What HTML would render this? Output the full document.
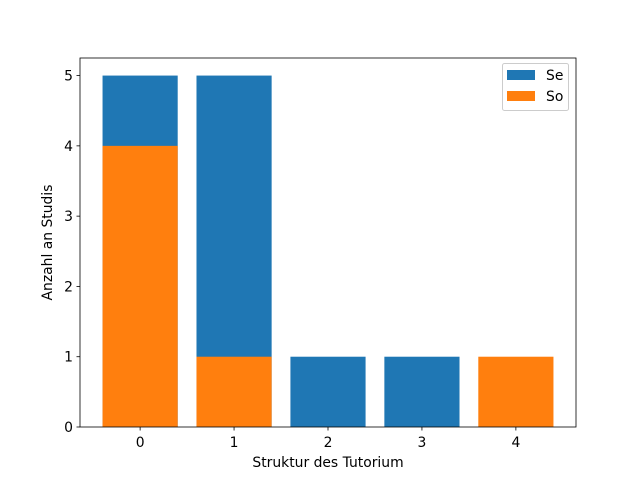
<!DOCTYPE html>
<html><head><meta charset="utf-8"><style>
body{margin:0;background:#fff}
svg text{font-family:"DejaVu Sans","Liberation Sans",sans-serif;font-size:13.9px;fill:#000}
</style></head><body>
<svg id="chart" width="640" height="480">
<rect width="640" height="480" fill="#fff"/>
<g id="bars"></g>
<g id="axes"></g>
</svg>
<script>
const categories=[0,1,2,3,4];
const seValues=[5,5,1,1,0];
const soValues=[4,1,0,0,1];
const yTicks=[0,1,2,3,4,5];
const ns='http://www.w3.org/2000/svg';
const L=80,R=576,T=58,B=427;
const xmin=-0.64,xmax=4.64,ymax=5.25;
const xs=v=>L+(v-xmin)/(xmax-xmin)*(R-L);
const ys=v=>B-v/ymax*(B-T);
const svg=document.getElementById('chart');
const bars=document.getElementById('bars');
const axes=document.getElementById('axes');
function mk(tag,a,p){const e=document.createElementNS(ns,tag);for(const k in a)e.setAttribute(k,a[k]);p.appendChild(e);return e;}
function drawSeries(vals,color,name){
vals.forEach((v,i)=>{if(v<=0)return;
const r=mk('rect',{x:xs(categories[i]-0.4),y:ys(v),width:xs(categories[i]+0.4)-xs(categories[i]-0.4),height:ys(0)-ys(v),fill:color},bars);

});
}
drawSeries(seValues,'#1f77b4','se');
drawSeries(soValues,'#ff7f0e','so');
const frame=mk('rect',{x:L,y:T,width:R-L,height:B-T,fill:'none',stroke:'#000','stroke-width':0.8},axes);


categories.forEach(c=>{const x=xs(c);
mk('line',{x1:x,x2:x,y1:B,y2:B+3.5,stroke:'#000','stroke-width':0.8},axes);
const t=mk('text',{x:x,y:B+20,'text-anchor':'middle'},axes);t.textContent=c;

});
yTicks.forEach(v=>{const y=ys(v);
mk('line',{x1:L-3.5,x2:L,y1:y,y2:y,stroke:'#000','stroke-width':0.8},axes);
const t=mk('text',{x:L-7,y:y+5,'text-anchor':'end'},axes);t.textContent=v;

});
const xt=mk('text',{x:(L+R)/2,y:467,'text-anchor':'middle'},axes);xt.textContent='Struktur des Tutorium';


const yt=mk('text',{x:0,y:0,'text-anchor':'middle',transform:'translate(52,'+((T+B)/2)+') rotate(-90)'},axes);yt.textContent='Anzahl an Studis';


const lg=mk('g',{},axes);


mk('rect',{x:502.5,y:63.5,width:66,height:47,rx:2,fill:'#fff',stroke:'#ccc','stroke-width':1},lg);
[['Se','#1f77b4',70],['So','#ff7f0e',91]].forEach(([n,c,y])=>{
mk('rect',{x:507,y:y,width:28,height:10,fill:c},lg);
const t=mk('text',{x:546,y:y+10},lg);t.textContent=n;

});
</script>
</body></html>
